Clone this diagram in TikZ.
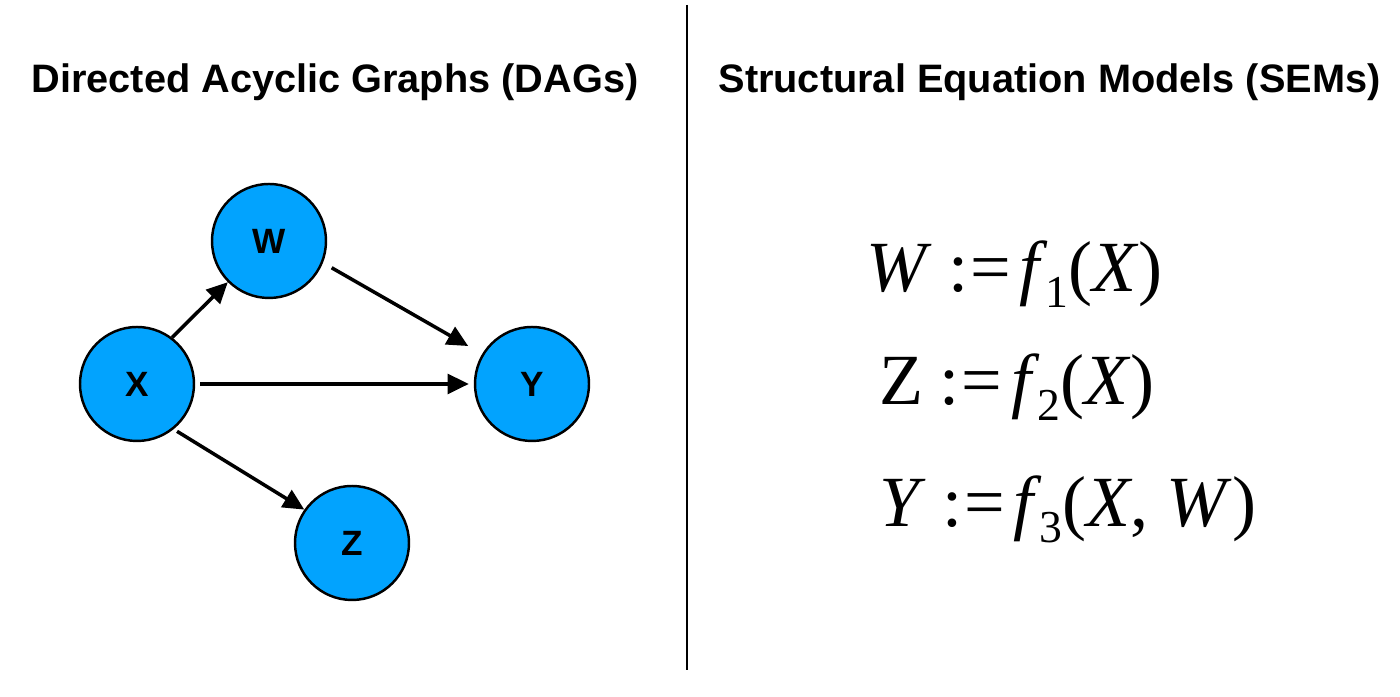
\documentclass[tikz,border=0pt]{standalone}
\usepackage{fontspec}
\setmainfont{Liberation Sans}
\newfontfamily\eqfont{Liberation Serif}
\usetikzlibrary{arrows.meta}
\definecolor{varblue}{RGB}{2,163,254}
\newcommand{\eqsub}[1]{\hspace{-0.03em}\raisebox{-4.3pt}{\fontsize{13}{13}\selectfont #1}}
\begin{document}
\begin{tikzpicture}[
  var/.style={circle,draw=black,line width=0.7pt,fill=varblue,minimum size=1.14cm,inner sep=0pt,font=\bfseries\fontsize{10}{11}\selectfont},
  edge/.style={-{Triangle[length=6pt,width=5.6pt]},line width=1pt},
  ttl/.style={anchor=base,font=\bfseries\fontsize{11.3}{13}\selectfont},
  eq/.style={anchor=base west,inner sep=0pt,font=\eqfont\fontsize{20.5}{24}\selectfont}]
  \useasboundingbox (0,0) rectangle (14,6.97);
  \node[ttl] (dagtitle) at (3.35,6.04) {Directed Acyclic Graphs (DAGs)};
  \node[ttl] (semtitle) at (10.495,6.04) {Structural Equation Models (SEMs)};
  \draw[line width=0.6pt] (6.87,6.92) -- (6.87,0.27);
  \node[var] (X) at (1.37,3.13) {X};
  \node[var] (W) at (2.69,4.56) {W};
  \node[var] (Y) at (5.32,3.13) {Y};
  \node[var] (Z) at (3.52,1.54) {Z};
  \draw[edge] (X.53) -- (W.225);
  \draw[edge,shorten <=0.1cm,shorten >=0.16cm] (W.-22) -- (Y.149);
  \draw[edge,shorten <=0.05cm,shorten >=0.05cm] (X) -- (Y);
  \draw[edge,shorten <=0.04cm] (X.-51) -- (Z.145);
  \node[eq] (eqW) at (8.66,4.05) {\textit{W}\hspace{0.22em}:\hspace{0.03em}=\hspace{0.12em}\textit{f}\eqsub{1}(\textit{X})};
  \node[eq] (eqZ) at (8.79,2.92) {Z\hspace{0.22em}:\hspace{0.03em}=\hspace{0.12em}\textit{f}\eqsub{2}(\textit{X})};
  \node[eq] (eqY) at (8.79,1.70) {\textit{Y}\hspace{0.22em}:\hspace{0.03em}=\hspace{0.12em}\textit{f}\eqsub{3}(\textit{X}, \textit{W})};
\end{tikzpicture}
\end{document}
